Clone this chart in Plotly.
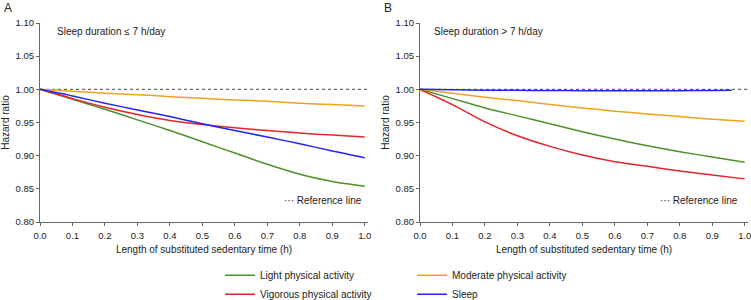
import plotly.graph_objects as go

# ---- data ----
x_grid = [0.0, 0.1, 0.2, 0.3, 0.4, 0.5, 0.6, 0.7, 0.8, 0.9, 1.0]
x_sleep_b = [0.0, 0.1, 0.2, 0.3, 0.4, 0.5, 0.6, 0.7, 0.8, 0.9, 0.96]

a_light = [1.000, 0.985, 0.970, 0.954, 0.938, 0.921, 0.904, 0.887, 0.872, 0.861, 0.854]
a_moderate = [1.000, 0.997, 0.994, 0.992, 0.989, 0.9865, 0.984, 0.982, 0.979, 0.977, 0.975]
a_vigorous = [1.000, 0.986, 0.973, 0.962, 0.953, 0.947, 0.942, 0.938, 0.934, 0.931, 0.928]
a_sleep = [1.000, 0.990, 0.979, 0.969, 0.959, 0.948, 0.938, 0.928, 0.918, 0.907, 0.897]

b_light = [1.000, 0.986, 0.972, 0.960, 0.948, 0.936, 0.925, 0.915, 0.906, 0.898, 0.890]
b_moderate = [1.000, 0.994, 0.988, 0.983, 0.977, 0.972, 0.967, 0.963, 0.959, 0.955, 0.952]
b_vigorous = [1.000, 0.977, 0.951, 0.930, 0.914, 0.901, 0.891, 0.884, 0.877, 0.871, 0.865]
b_sleep = [1.000, 0.9993, 0.9988, 0.9985, 0.9982, 0.998, 0.998, 0.998, 0.998, 0.9982, 0.9985]

ref_x = [0.0, 1.01]
ref_y = [1.0, 1.0]

series_names = ["Light physical activity", "Moderate physical activity",
                "Vigorous physical activity", "Sleep"]
colors = {"Light physical activity": "#4f8f2a",
          "Moderate physical activity": "#f0a21e",
          "Vigorous physical activity": "#e3242b",
          "Sleep": "#2424f2"}
legend_of = {"Light physical activity": "legend",
             "Vigorous physical activity": "legend",
             "Moderate physical activity": "legend2",
             "Sleep": "legend2"}

panel_titles = ["Sleep duration \u2264 7 h/day", "Sleep duration > 7 h/day"]
y_ticks = [0.80, 0.85, 0.90, 0.95, 1.00, 1.05, 1.10]
x_ticks = [0.0, 0.1, 0.2, 0.3, 0.4, 0.5, 0.6, 0.7, 0.8, 0.9, 1.0]

FONT = "Liberation Sans, Arial, Helvetica, sans-serif"
TXT = "#222222"
AX = "#666666"

fig = go.Figure()

panels = [
    ("x", "y", {"Light physical activity": (x_grid, a_light),
                "Moderate physical activity": (x_grid, a_moderate),
                "Vigorous physical activity": (x_grid, a_vigorous),
                "Sleep": (x_grid, a_sleep)}),
    ("x2", "y2", {"Light physical activity": (x_grid, b_light),
                  "Moderate physical activity": (x_grid, b_moderate),
                  "Vigorous physical activity": (x_grid, b_vigorous),
                  "Sleep": (x_sleep_b, b_sleep)}),
]

for pi, (xa, ya, data) in enumerate(panels):
    fig.add_trace(go.Scatter(x=ref_x, y=ref_y, mode="lines", xaxis=xa, yaxis=ya,
                             line=dict(color="#444444", width=1, dash="dot"),
                             showlegend=False, hoverinfo="skip"))
    for name in series_names:
        xs, ys = data[name]
        fig.add_trace(go.Scatter(x=xs, y=ys, mode="lines", name=name,
                                 xaxis=xa, yaxis=ya,
                                 line=dict(color=colors[name], width=1.5, shape="spline",
                                           smoothing=0.8),
                                 legend=legend_of[name],
                                 showlegend=(pi == 0)))

axis_common = dict(showgrid=False, zeroline=False, showline=True, linecolor=AX,
                   linewidth=1, ticks="outside", ticklen=3, tickcolor=AX, automargin=False,
                   ticklabeloverflow="allow",
                   tickfont=dict(family=FONT, size=9.5, color=TXT))

W_PLOT = 708.0
xd_a = [0.0, 328 / W_PLOT]
xd_b = [380 / W_PLOT, 1.0]

for key, dom, anchor in [("xaxis", xd_a, "y"), ("xaxis2", xd_b, "y2")]:
    fig.update_layout({key: dict(axis_common, domain=dom, anchor=anchor, range=[0, 1.01],
                                 tickvals=x_ticks, tickformat=".1f", ticklabelstandoff=2,
                                 title=dict(text="Length of substituted sedentary time (h)",
                                            font=dict(family=FONT, size=10, color=TXT),
                                            standoff=5))})
for key, anchor in [("yaxis", "x"), ("yaxis2", "x2")]:
    fig.update_layout({key: dict(axis_common, domain=[0, 1], anchor=anchor, range=[0.80, 1.10],
                                 tickvals=y_ticks, tickformat=".2f",
                                 title=dict(text="Hazard ratio",
                                            font=dict(family=FONT, size=10, color=TXT),
                                            standoff=4))})

annotations = []
for xref, yref, title, xt in [("x", "y", panel_titles[0], 0.046), ("x2", "y2", panel_titles[1], 0.037)]:
    annotations.append(dict(xref=xref, yref=yref, x=xt, y=1.0865, text=title,
                            showarrow=False, xanchor="left", yanchor="middle",
                            font=dict(family=FONT, size=10, color=TXT)))
for xref, yref, xt in [("x", "y", 0.745), ("x2", "y2", 0.732)]:
    annotations.append(dict(xref=xref, yref=yref, x=xt, y=0.833,
                            text="\u00b7\u00b7\u00b7 Reference line",
                            showarrow=False, xanchor="left", yanchor="middle",
                            font=dict(family=FONT, size=10, color=TXT)))
for lab, px in [("A", 2), ("B", 382)]:
    annotations.append(dict(xref="paper", yref="paper", x=(px - 40) / W_PLOT, y=(222 + 1) / 199.0,
                            text=lab, showarrow=False, xanchor="left", yanchor="top",
                            font=dict(family=FONT, size=12, color=TXT)))

legend_style = dict(orientation="v", bgcolor="rgba(0,0,0,0)", borderwidth=0,
                    font=dict(family=FONT, size=10, color=TXT),
                    xanchor="left", yanchor="top", tracegroupgap=0, itemwidth=30)

fig.update_layout(
    width=751, height=300,
    margin=dict(l=40, r=3, t=23, b=78, autoexpand=False),
    paper_bgcolor="white", plot_bgcolor="white",
    font=dict(family=FONT, size=10, color=TXT),
    annotations=annotations,
    showlegend=True,
    legend=dict(legend_style, x=(220 - 40) / W_PLOT, y=-0.195),
    legend2=dict(legend_style, x=(412 - 40) / W_PLOT, y=-0.195),
)

fig.write_html("out.html", config={"displayModeBar": False},
               post_script="document.body.style.margin='0';document.body.style.padding='0';")
